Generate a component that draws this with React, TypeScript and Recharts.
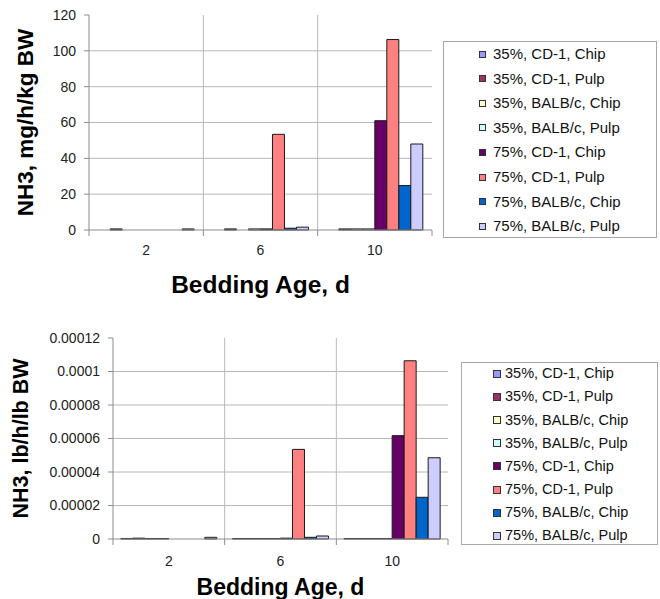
import React from "react";
import { BarChart, Bar, XAxis, YAxis, CartesianGrid } from "recharts";

const categories = ["2", "6", "10"];

const seriesNames = [
  "35%, CD-1, Chip",
  "35%, CD-1, Pulp",
  "35%, BALB/c, Chip",
  "35%, BALB/c, Pulp",
  "75%, CD-1, Chip",
  "75%, CD-1, Pulp",
  "75%, BALB/c, Chip",
  "75%, BALB/c, Pulp",
];

const seriesColors = ["#9999FF", "#993366", "#FFFFCC", "#CCFFFF", "#660066", "#FF8080", "#0066CC", "#CCCCFF"];

// mg/h/kg BW, one row per series, columns follow categories
const mgPerKg = [
  [0, 0, 0],
  [0.6, 0.6, 0.6],
  [0, 0, 0.6],
  [0, 0.6, 0.6],
  [0, 0.6, 61],
  [0, 53.4, 106.3],
  [0, 1.0, 24.8],
  [0.6, 1.6, 48],
];

// lb/h/lb BW
const lbPerLb = [
  [0.0000003, 0.0000003, 0.0000003],
  [0.0000005, 0.0000003, 0.0000003],
  [0.0000003, 0.0000003, 0.0000003],
  [0.0000003, 0.0000003, 0.0000003],
  [0, 0.0000005, 0.0000617],
  [0, 0.0000535, 0.0001064],
  [0, 0.000001, 0.0000249],
  [0.000001, 0.0000018, 0.0000485],
];

const mgTicks = [0, 20, 40, 60, 80, 100, 120];
const lbTicks = [0, 0.00002, 0.00004, 0.00006, 0.00008, 0.0001, 0.00012];

const FONT = "'Liberation Sans', Arial, sans-serif";
const AXIS_GRAY = "#8c8c8c";
const GRID_GRAY = "#b8b8b8";

const toRows = (values: number[][]) =>
  categories.map((c, ci) => {
    const row: Record<string, number | string> = { name: c };
    seriesNames.forEach((s, si) => {
      row[s] = values[si][ci];
    });
    return row;
  });

const fmtLb = (v: number) => (v === 0 ? "0" : String(parseFloat(v.toFixed(5))));

function makeCategoryTick(axisY: number, band: number, textY: number, fontSize: number) {
  return (props: any) => {
    const { x, payload, index } = props;
    const marks = [x - band / 2];
    if (index === categories.length - 1) marks.push(x + band / 2);
    return (
      <g>
        {marks.map((mx) => (
          <line key={mx} x1={mx} x2={mx} y1={axisY} y2={axisY + 6} stroke={AXIS_GRAY} />
        ))}
        <text x={x} y={textY} dy="0.71em" textAnchor="middle" fontSize={fontSize} fill="#222" fontFamily={FONT}>
          {payload.value}
        </text>
      </g>
    );
  };
}

interface PanelProps {
  values: number[][];
  width: number;
  height: number;
  margin: { top: number; right: number; left: number; bottom: number };
  yWidth: number;
  xHeight: number;
  ticks: number[];
  fmt?: (v: number) => string;
  yLabel: string;
  yLabelSize: number;
  yLabelX: number;
  xLabelSize: number;
  xLabelOffset: number;
  tickTextGap: number;
  gap: string;
}

function Panel(p: PanelProps) {
  const plotW = p.width - p.margin.left - p.margin.right - p.yWidth;
  const axisY = p.height - p.margin.bottom - p.xHeight;
  const band = plotW / categories.length;
  const steps = p.ticks.length - 1;
  return (
    <BarChart
      width={p.width}
      height={p.height}
      data={toRows(p.values)}
      margin={p.margin}
      barCategoryGap={p.gap}
      barGap={0}
    >
      <CartesianGrid
        stroke={GRID_GRAY}
        horizontalCoordinatesGenerator={({ offset }: any) =>
          Array.from({ length: steps - 1 }, (_, i) => offset.top + (offset.height * (i + 1)) / steps)
        }
        verticalCoordinatesGenerator={({ offset }: any) =>
          Array.from({ length: categories.length - 1 }, (_, i) => offset.left + (offset.width * (i + 1)) / categories.length)
        }
      />
      <XAxis
        dataKey="name"
        height={p.xHeight}
        axisLine={{ stroke: AXIS_GRAY }}
        tickLine={false}
        interval={0}
        tick={makeCategoryTick(axisY, band, axisY + p.tickTextGap, 14)}
        label={{
          value: "Bedding Age, d",
          position: "bottom",
          offset: p.xLabelOffset,
          style: { fontSize: p.xLabelSize, fontWeight: "bold", fill: "#000", fontFamily: FONT },
        }}
      />
      <YAxis
        width={p.yWidth}
        domain={[p.ticks[0], p.ticks[p.ticks.length - 1]]}
        ticks={p.ticks}
        interval={0}
        tickFormatter={p.fmt}
        tickSize={5}
        tickMargin={8}
        axisLine={{ stroke: AXIS_GRAY }}
        tickLine={{ stroke: AXIS_GRAY }}
        tick={{ fontSize: 14, fill: "#222", fontFamily: FONT }}
        label={{
          value: p.yLabel,
          angle: -90,
          position: "insideLeft",
          offset: p.yLabelX,
          style: { textAnchor: "middle", fontSize: p.yLabelSize, fontWeight: "bold", fill: "#000", fontFamily: FONT },
        }}
      />
      {seriesNames.map((s, i) => (
        <Bar key={s} dataKey={s} fill={seriesColors[i]} stroke="#1a1a1a" strokeWidth={1} isAnimationActive={false} />
      ))}
    </BarChart>
  );
}

interface LegendProps {
  left: number;
  top: number;
  width: number;
  height: number;
  firstY: number;
  step: number;
  squareX: number;
  square: number;
  textX: number;
  fontSize: number;
}

function LegendBox(l: LegendProps) {
  return (
    <div
      style={{
        position: "absolute",
        left: l.left,
        top: l.top,
        width: l.width,
        height: l.height,
        border: "1px solid #a8a8a8",
        boxSizing: "border-box",
        background: "#fff",
        fontFamily: FONT,
      }}
    >
      {seriesNames.map((s, i) => (
        <div key={s}>
          <div
            style={{
              position: "absolute",
              left: l.squareX,
              top: l.firstY + i * l.step - l.square / 2,
              width: l.square,
              height: l.square,
              background: seriesColors[i],
              border: "1px solid #333",
              boxSizing: "border-box",
            }}
          />
          <div
            style={{
              position: "absolute",
              left: l.textX,
              top: l.firstY + i * l.step - l.fontSize * 0.6,
              fontSize: l.fontSize,
              lineHeight: `${l.fontSize * 1.2}px`,
              color: "#111",
              whiteSpace: "nowrap",
            }}
          >
            {s}
          </div>
        </div>
      ))}
    </div>
  );
}

export default function App() {
  return (
    <div style={{ position: "absolute", left: 0, top: 0, width: 660, height: 599, background: "#fff" }}>
      <div style={{ position: "absolute", left: 0, top: 0 }}>
        <Panel
          values={mgPerKg}
          width={440}
          height={300}
          margin={{ top: 15, right: 8, left: 0, bottom: 30 }}
          yWidth={89}
          xHeight={40}
          ticks={mgTicks}
          yLabel="NH3, mg/h/kg BW"
          yLabelSize={22.5}
          yLabelX={25}
          xLabelSize={24.5}
          xLabelOffset={6}
          tickTextGap={15}
          gap="8%"
        />
      </div>
      <LegendBox left={443} top={41} width={214} height={197} firstY={12} step={24.6} squareX={35} square={7} textX={49} fontSize={15} />
      <div style={{ position: "absolute", left: 0, top: 310 }}>
        <Panel
          values={lbPerLb}
          width={460}
          height={289}
          margin={{ top: 28, right: 12, left: 0, bottom: 25 }}
          yWidth={113}
          xHeight={35}
          ticks={lbTicks}
          fmt={fmtLb}
          yLabel="NH3, lb/h/lb BW"
          yLabelSize={21.5}
          yLabelX={20}
          xLabelSize={23}
          xLabelOffset={5}
          tickTextGap={17}
          gap="7%"
        />
      </div>
      <LegendBox left={461} top={362} width={197} height={183} firstY={11} step={23.1} squareX={31} square={8} textX={43} fontSize={14.5} />
    </div>
  );
}
